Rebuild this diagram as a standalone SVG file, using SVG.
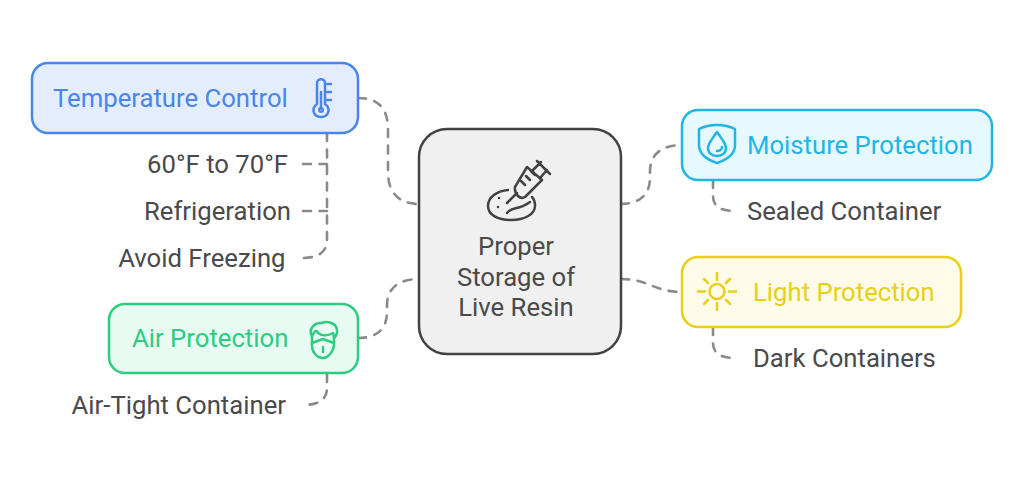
<svg xmlns="http://www.w3.org/2000/svg" width="1024" height="483" viewBox="0 0 1024 483">
<style>
text{font-family:Roboto,"Liberation Sans",sans-serif;font-size:25.7px;fill:#4a4a4a}
.c{fill:none;stroke:#8a8a8a;stroke-width:2.6;stroke-dasharray:8 8.5;stroke-linecap:round}
.i{fill:none;stroke-width:2.5;stroke-linecap:round;stroke-linejoin:round}
</style>
<rect width="1024" height="483" fill="#fff"/>
<g id="connectors">
<path class="c" d="M358 98C380 98 388 110 388 130V172C388 192 398 204 419 204"/>
<path class="c" d="M358 338C378 338 387 328 387 312V305C387 289 398 279 419 279"/>
<path class="c" d="M621 204C640 204 650 194 650 178V171C650 155 661 145 682 145"/>
<path class="c" d="M621 279C650 279 653 292 682 292"/>
<path class="c" d="M327 133V240C327 252 318 258 303 258"/>
<path class="c" d="M303 164H327"/>
<path class="c" d="M303 211H327"/>
<path class="c" d="M327 374V388C327 400 318 405 303 405"/>
<path class="c" d="M713 180V196C713 206 720 211 735 211"/>
<path class="c" d="M713 327V343C713 353 720 358 735 358"/>
</g>
<g id="center">
<rect x="419" y="129" width="202" height="225" rx="28" fill="#f0f0f0" stroke="#424242" stroke-width="2.5"/>
<g class="i" stroke="#424242">
<path d="M508 190C497 191 488 197 488 206C488 215 498 220 511 220C525 220 535 214 535 206C535 202 534 199 532 197"/>
<path d="M507 203L517 193M515 187L527 167L542 180L525 197C520 200 514 194 515 187Z"/>
<path d="M537 161L550 174M533 170L541 162M540 178L547 170M521 181L525 185M526 176L530 180M531 171L535 175"/>
<path d="M507 213C512 206 518 211 530 202M498 207V207M499 198V198"/>
</g>
<text x="516" y="254.500" text-anchor="middle">Proper</text>
<text x="516" y="285.500" text-anchor="middle">Storage of</text>
<text x="516" y="316" text-anchor="middle">Live Resin</text>
</g>
<g id="temperature-control">
<rect x="32" y="63" width="326" height="70" rx="16" fill="#e3edfd" stroke="#4a86e8" stroke-width="2.5"/>
<text x="53" y="107" style="fill:#4a86e8">Temperature Control</text>
<g class="i" stroke="#4a86e8">
<path d="M317 104V83C317 78 325 78 325 83V104C331 108 329 117 321 117C313 117 311 108 317 104Z"/>
<path d="M321 92V107"/><circle cx="321" cy="110" r="1.8"/>
<path d="M327 84H331M327 92H331M327 100H331"/>
</g>
</g>
<g id="air-protection">
<rect x="109" y="304" width="249" height="69" rx="16" fill="#e8fbf3" stroke="#2ecc81" stroke-width="2.5"/>
<text x="132" y="347" style="fill:#2ecc81">Air Protection</text>
<g class="i" stroke="#2ecc81">
<path d="M312 336C308 330 314 322 322 323C326 321 336 322 337 330C338 334 336 336 334 338"/>
<path d="M312 336C314 332 316 329 318 333C322 336 328 336 333 333C334 335 334 337 334 338V346C333 352 328 358 323 358C317 358 312 352 312 346Z"/>
<path d="M312 343L323 339L334 343M323 347V352"/>
</g>
</g>
<g id="moisture-protection">
<rect x="682" y="110" width="310" height="70" rx="16" fill="#e5f9fe" stroke="#1fb6e6" stroke-width="2.5"/>
<text x="747" y="154" style="fill:#1fb6e6">Moisture Protection</text>
<g class="i" stroke="#1fb6e6">
<path d="M699 129C705 126 711 125 717 125C723 125 729 126 735 129V145C735 155 726 160 717 163C708 160 699 155 699 145Z"/>
<path d="M717 132C713 138 708 143 708 148C708 153 712 156 717 156C722 156 726 153 726 148C726 143 721 138 717 132Z"/>
<path d="M717 151C720 151 722 149 722 147"/>
</g>
</g>
<g id="light-protection">
<rect x="682" y="257" width="279" height="70" rx="16" fill="#fefce8" stroke="#e9cf17" stroke-width="2.5"/>
<text x="753" y="301" style="fill:#e9cf17">Light Protection</text>
<g class="i" stroke="#e9cf17">
<circle cx="717" cy="291.500" r="7.500"/>
<path d="M717 273V280M717 303V310M698 291.500H705M729 291.500H736M704 279L708 283M726 300L730 304M730 279L726 283M708 300L704 304"/>
</g>
</g>
<g id="labels">
<text x="288" y="173" text-anchor="end">60°F to 70°F</text>
<text x="291" y="220" text-anchor="end">Refrigeration</text>
<text x="285.500" y="266.500" text-anchor="end">Avoid Freezing</text>
<text x="286" y="413.500" text-anchor="end">Air-Tight Container</text>
<text x="747" y="219.500">Sealed Container</text>
<text x="753" y="366.500">Dark Containers</text>
</g>
</svg>
